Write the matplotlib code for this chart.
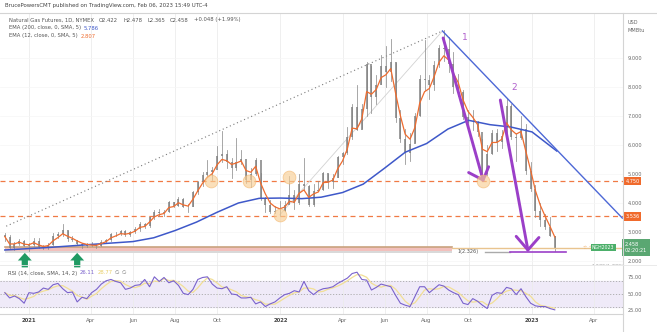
import numpy as np
import pandas as pd
import matplotlib
matplotlib.use("Agg")
import matplotlib.pyplot as plt
import matplotlib.dates as mdates
from matplotlib.transforms import blended_transform_factory
from matplotlib.patches import Rectangle

W, H = 657, 332

# ---------------- data (weekly) ----------------
first_week = "2020-11-27"
close = [2.84, 2.46, 2.59, 2.70, 2.52, 2.54, 2.70, 2.48, 2.45, 2.56,
         2.86, 2.92, 3.07, 2.77, 2.71, 2.60, 2.54, 2.53, 2.52, 2.53,
         2.67, 2.73, 2.93, 2.93, 3.02, 2.91, 2.99, 3.10, 3.29, 3.22,
         3.50, 3.70, 3.67, 3.68, 4.05, 3.91, 4.14, 3.86, 3.85, 4.37,
         4.71, 4.95, 5.08, 5.14, 5.62, 5.69, 5.41, 5.20, 5.43, 5.52,
         4.79, 5.00, 5.47, 4.13, 3.93, 3.69, 3.73, 3.73, 3.92, 4.26,
         3.99, 4.64, 4.57, 3.94, 4.43, 4.45, 5.02, 4.73, 4.86, 5.57,
         5.72, 6.28, 7.30, 6.53, 7.24, 8.78, 7.66, 8.08, 8.73, 8.52,
         8.85, 6.94, 6.22, 5.73, 6.03, 7.00, 8.28, 8.23, 8.06, 8.77,
         9.34, 9.30, 8.79, 8.00, 7.83, 6.95, 6.77, 6.75, 6.45, 5.00,
         5.69, 6.40, 6.09, 6.30, 7.33, 6.28, 6.23, 6.55, 5.10, 4.48,
         3.71, 3.42, 3.17, 2.85, 2.46]
high = [2.98, 2.88, 2.66, 2.76, 2.72, 2.62, 2.80, 2.80, 2.56, 2.62,
        2.95, 3.00, 3.27, 3.05, 2.86, 2.73, 2.62, 2.61, 2.64, 2.57,
        2.71, 2.76, 2.96, 2.99, 3.06, 3.06, 3.02, 3.16, 3.34, 3.31,
        3.53, 3.76, 3.78, 3.75, 4.08, 4.04, 4.21, 4.18, 3.96, 4.41,
        4.76, 5.06, 5.47, 5.24, 5.96, 6.47, 5.83, 5.56, 6.23, 5.81,
        5.09, 5.21, 5.56, 5.02, 4.21, 4.11, 3.91, 4.07, 4.06, 4.92,
        4.46, 5.00, 5.55, 4.61, 4.66, 4.76, 5.06, 5.01, 5.01, 5.61,
        5.76, 6.62, 7.41, 8.06, 7.41, 8.86, 8.71, 8.41, 9.10, 9.41,
        9.66, 8.81, 7.21, 6.56, 6.41, 7.11, 8.41, 9.62, 8.41, 8.91,
        9.46, 9.96, 9.71, 9.21, 8.46, 7.91, 7.21, 7.21, 6.81, 6.21,
        6.01, 6.51, 6.56, 6.51, 7.61, 7.41, 6.41, 7.01, 6.71, 5.41,
        4.61, 4.01, 3.61, 3.51, 2.86]
low = [2.70, 2.42, 2.39, 2.55, 2.50, 2.36, 2.50, 2.45, 2.42, 2.40,
       2.55, 2.80, 2.85, 2.70, 2.68, 2.55, 2.45, 2.48, 2.50, 2.45,
       2.50, 2.62, 2.70, 2.85, 2.88, 2.85, 2.85, 2.95, 3.05, 3.15,
       3.18, 3.45, 3.55, 3.56, 3.70, 3.85, 3.90, 3.85, 3.70, 3.90,
       4.30, 4.60, 4.90, 4.80, 5.30, 5.43, 5.20, 4.87, 5.15, 5.35,
       4.70, 4.55, 4.95, 4.10, 3.70, 3.65, 3.65, 3.55, 3.72, 4.00,
       3.80, 3.95, 4.45, 3.90, 3.90, 4.40, 4.45, 4.50, 4.50, 4.90,
       5.35, 5.70, 6.20, 6.50, 6.60, 7.00, 7.10, 7.40, 8.10, 8.00,
       8.20, 6.80, 6.10, 5.35, 5.45, 6.10, 7.00, 7.90, 7.60, 7.90,
       8.70, 8.90, 8.50, 7.80, 7.70, 6.90, 6.70, 6.50, 6.30, 4.90,
       4.95, 5.70, 5.80, 5.90, 6.70, 6.20, 5.45, 6.20, 5.00, 4.40,
       3.53, 3.20, 3.10, 2.85, 2.36]
rsi = [52, 44, 47, 43, 36, 52, 51, 53, 59, 57,
       64, 66, 58, 52, 53, 38, 45, 43, 52, 57,
       65, 70, 72, 69, 67, 57, 59, 63, 64, 72,
       61, 76, 69, 75, 67, 70, 63, 51, 49, 57,
       72, 75, 76, 65, 59, 58, 61, 50, 49, 44,
       44, 45, 35, 38, 31, 35, 38, 44, 49, 51,
       55, 53, 69, 55, 49, 55, 58, 59, 61, 66,
       70, 74, 81, 83, 72, 71, 56, 60, 65, 63,
       61, 48, 36, 33, 31, 46, 61, 61, 52, 58,
       64, 62, 56, 52, 49, 36, 34, 43, 39, 33,
       28, 48, 52, 51, 60, 58, 49, 58, 46, 36,
       32, 31, 31, 28, 26]

ema200_dates = ["2020-11-27", "2021-02-01", "2021-04-01", "2021-06-01", "2021-07-01",
                "2021-08-01", "2021-09-01", "2021-10-01", "2021-11-01", "2021-12-01",
                "2022-01-01", "2022-02-01", "2022-03-01", "2022-04-01", "2022-05-01",
                "2022-06-01", "2022-07-01", "2022-08-01", "2022-09-01", "2022-10-01",
                "2022-11-01", "2022-12-01", "2023-01-01", "2023-02-06"]
ema200_vals = [2.38, 2.47, 2.57, 2.67, 2.80, 3.05, 3.34, 3.68, 4.00, 4.16,
               4.17, 4.15, 4.20, 4.36, 4.65, 5.20, 5.75, 6.05, 6.55, 6.85,
               6.70, 6.62, 6.45, 5.79]

level_lines = [4.750, 3.536]
tick_dates = ["2021-01-01", "2021-04-01", "2021-06-01", "2021-08-01", "2021-10-01",
              "2022-01-01", "2022-04-01", "2022-06-01", "2022-08-01", "2022-10-01",
              "2023-01-01", "2023-04-01"]
tick_labels = ["2021", "Apr", "Jun", "Aug", "Oct", "2022", "Apr", "Jun", "Aug", "Oct", "2023", "Apr"]
price_ticks = [2, 3, 4, 5, 6, 7, 8, 9]
rsi_ticks = [25, 50, 75]

# annotations (date, price)
dotted_line = (["2020-11-29", "2022-08-24"], [3.20, 9.93])
faint_line = (["2021-12-31", "2022-08-24"], [3.59, 9.93])
trend_line = (["2022-08-24", "2023-05-12"], [9.93, 3.48])
arrow1 = (["2022-08-25", "2022-10-22"], [9.69, 4.79])
arrow1_head = (["2022-10-01", "2022-10-22", "2022-10-30"], [5.05, 4.79, 5.25])
arrow2 = (["2022-11-16", "2022-12-26"], [7.55, 2.38])
arrow2_head = (["2022-12-09", "2022-12-26", "2023-01-11"], [2.85, 2.38, 2.81])
circles = (["2021-09-22", "2021-11-16", "2022-01-13", "2021-12-31", "2022-10-22"],
           [4.76, 4.76, 4.90, 3.59, 4.76])
green_arrows = ["2020-12-26", "2021-03-12"]

# ---------------- helpers ----------------
def d(s):
    return mdates.date2num(pd.Timestamp(s))

weeks = pd.date_range(first_week, periods=len(close), freq="7D")
wx = mdates.date2num(weeks)
opens = [close[0] + 0.06] + close[:-1]
ema12 = pd.Series(close).ewm(span=3).mean().values
rsi_sma = pd.Series(rsi).rolling(3, min_periods=1).mean().values

fig = plt.figure(figsize=(W / 100, H / 100), dpi=100)
fig.patch.set_facecolor("white")

def rect(x0, y0, x1, y1):
    return [x0 / W, 1 - y1 / H, (x1 - x0) / W, (y1 - y0) / H]

ax2 = fig.add_axes(rect(0, 265, 623, 314))
ax = fig.add_axes(rect(0, 13, 623, 265))
ax.patch.set_visible(False)
ax2.patch.set_visible(False)
xlim = (d("2020-11-20"), d("2023-05-13"))
for a in (ax, ax2):
    a.set_xlim(*xlim)
    for s in a.spines.values():
        s.set_visible(False)
    a.set_xticks([d(t) for t in tick_dates])
    a.grid(axis="x", color="#ececec", lw=0.6)
    a.set_axisbelow(True)
ax.set_ylim(1.862, 10.55)
ax2.set_ylim(19.7, 93.9)

# price panel
ax.set_yticks(price_ticks)
ax.set_yticklabels([f"{v:.3f}" for v in price_ticks])
ax.yaxis.tick_right()
ax.tick_params(axis="y", length=0, pad=3.5, labelsize=3.6, labelcolor="#666")
ax.tick_params(axis="x", length=0, labelbottom=False)
ax.grid(axis="y", color="#f5f5f5", lw=0.5)

# support band
x0b, x1b = d("2020-11-27"), d("2022-09-07")
ax.add_patch(Rectangle((x0b, 2.27), x1b - x0b, 0.09, facecolor="#d9d9d9", edgecolor="none", zorder=1))
ax.add_patch(Rectangle((x0b, 2.36), x1b - x0b, 0.13, facecolor="#f2c0bc", edgecolor="none", zorder=1))
ax.plot([x0b, x1b], [2.49, 2.49], color="#c9a27e", lw=1.2, zorder=1)

# level lines
for lv in level_lines:
    ax.axhline(lv, color="#f07a45", lw=0.9, ls=(0, (4, 3)), zorder=2)

# lines
ax.plot([d(s) for s in dotted_line[0]], dotted_line[1], color="#7a7a7a", lw=0.8, ls=(0, (1, 2.5)), zorder=2)
ax.plot([d(s) for s in faint_line[0]], faint_line[1], color="#d2d2d2", lw=0.6, zorder=2)

# candles
for x, o, h, l, c in zip(wx, opens, high, low, close):
    ax.plot([x, x], [l, h], color="#8f8f8f", lw=0.55, zorder=3)
    ax.plot([x, x], [min(o, c), max(o, c)], color="#808080", lw=1.1, zorder=3, solid_capstyle="butt")

ax.plot([d(s) for s in ema200_dates], ema200_vals, color="#3e58c9", lw=1.1, zorder=4)
ax.plot(wx, ema12, color="#ef6c2f", lw=0.9, zorder=4)

ax.plot([d(s) for s in trend_line[0]], trend_line[1], color="#4d68d6", lw=1.0, zorder=4)

purple = "#9b3fc8"
for shaft, head in ((arrow1, arrow1_head), (arrow2, arrow2_head)):
    ax.plot([d(s) for s in shaft[0]], shaft[1], color=purple, lw=2.1, zorder=5, solid_capstyle="round")
    ax.plot([d(s) for s in head[0]], head[1], color=purple, lw=2.1, zorder=5, solid_capstyle="round",
            solid_joinstyle="round")
ax.text(d("2022-09-26"), 9.72, "1", color="#b060cc", fontsize=6.5, ha="center", va="center", zorder=6)
ax.text(d("2022-12-06"), 7.97, "2", color="#b060cc", fontsize=6.5, ha="center", va="center", zorder=6)

ax.scatter([d(s) for s in circles[0]], circles[1], s=85, facecolor="#f8cf95", edgecolor="#f3b770",
           alpha=0.65, lw=0.6, zorder=6)

for g in green_arrows:
    an = ax.annotate("", xy=(d(g), 2.28), xytext=(d(g), 1.78),
                     arrowprops=dict(arrowstyle="simple,head_width=1.0,head_length=0.55,tail_width=0.45",
                                     color="#1f9a63", lw=0, shrinkA=0, shrinkB=0),
                     annotation_clip=False, zorder=7)
    an.arrow_patch.set_clip_on(False)

# fib / price lines
ax.plot([d("2022-10-25"), d("2022-11-30")], [2.326, 2.326], color="#aaaaaa", lw=1.0, zorder=4)
ax.plot([d("2022-11-30"), d("2023-02-20")], [2.30, 2.30], color=purple, lw=1.2, zorder=5)
ax.plot([d("2022-09-07"), xlim[1]], [2.458, 2.458], color="#e9c48f", lw=1.0, zorder=4)
ax.text(d("2022-09-15"), 2.326, "1(2.326)", color="#555", fontsize=3.6, ha="left", va="center", zorder=6)
ax.text(d("2023-03-16"), 2.47, "\u2606 \u2606", color="#f0a860", fontsize=3.4, ha="left", va="center", zorder=6)
ax.text(d("2023-03-29"), 2.47, "NGH2023", color="white", fontsize=3.3, ha="left", va="center", zorder=7,
        bbox=dict(boxstyle="square,pad=0.25", fc="#4caf6a", ec="none"))
ax.text(d("2023-03-28"), 1.82, "1.272(1.770)", color="#aaa", fontsize=3.6, ha="left", va="center", zorder=6,
        clip_on=True)

# right axis boxes
tr = blended_transform_factory(ax.transAxes, ax.transData)
for lv in level_lines:
    ax.text(1.004, lv, f"{lv:.3f}", transform=tr, color="white", fontsize=3.6, ha="left", va="center",
            clip_on=False, zorder=8, bbox=dict(boxstyle="square,pad=0.35", fc="#f06a2c", ec="none"))
ax.text(1.003, 2.47, "2.458\n02:20:21", transform=tr, color="white", fontsize=3.6, ha="left", va="center",
        clip_on=False, zorder=8, linespacing=1.3,
        bbox=dict(boxstyle="square,pad=0.6", fc="#5aa772", ec="none"))

# RSI panel
ax2.axhspan(30, 70, color="#efeaf8", zorder=0)
for lv in (70, 50, 30):
    ax2.axhline(lv, color="#a8a8a8", lw=0.6, ls=(0, (1.5, 2)), zorder=1)
ax2.plot(wx, rsi_sma, color="#f2df96", lw=0.9, zorder=2)
ax2.plot(wx, rsi, color="#7a62cc", lw=0.8, zorder=3)
ax2.set_yticks(rsi_ticks)
ax2.set_yticklabels([f"{v:.2f}" for v in rsi_ticks])
ax2.yaxis.tick_right()
ax2.tick_params(axis="y", length=0, pad=3.5, labelsize=3.6, labelcolor="#666")
ax2.set_xticklabels(tick_labels)
ax2.tick_params(axis="x", length=0, pad=3.0, labelsize=3.8, labelcolor="#666")
for lab in ax2.get_xticklabels():
    if lab.get_text().startswith("20"):
        lab.set_color("#444")
        lab.set_fontweight("bold")

# frame lines
fl = dict(color="#d4d4d4", lw=0.8, transform=fig.transFigure)
fig.add_artist(plt.Line2D([0, 1], [1 - 13 / H, 1 - 13 / H], **fl))
fig.add_artist(plt.Line2D([623 / W, 623 / W], [0, 1 - 13 / H], **fl))
fig.add_artist(plt.Line2D([0, 1], [1 - 265 / H, 1 - 265 / H], color="#e6e6e6", lw=0.6, transform=fig.transFigure))
fig.add_artist(plt.Line2D([0, 623 / W], [1 - 314 / H, 1 - 314 / H], **fl))

# texts
renderer = fig.canvas.get_renderer()

def chain(x, y, parts, size, gap=2.5):
    for s, c in parts:
        t = fig.text(x / W, 1 - y / H, s, color=c, fontsize=size, ha="left", va="center")
        x += t.get_window_extent(renderer).width + gap

fig.text(5 / W, 1 - 6 / H, "BrucePowersCMT published on TradingView.com, Feb 06, 2023 15:49 UTC-4",
         fontsize=3.9, color="#444", ha="left", va="center")
chain(9, 20, [("Natural Gas Futures, 1D, NYMEX", "#555"), ("O2.422", "#555"), ("H2.478", "#555"),
              ("L2.365", "#555"), ("C2.458", "#555"), ("+0.048 (+1.99%)", "#555")], 3.8, gap=5)
chain(9, 28, [("EMA (200, close, 0, SMA, 5)", "#555"), ("5.786", "#3e58c9")], 3.8)
chain(9, 36, [("EMA (12, close, 0, SMA, 5)", "#555"), ("2.807", "#ef6c2f")], 3.8)
chain(8, 273, [("RSI (14, close, SMA, 14, 2)", "#555"), ("26.11", "#7a62cc"), ("28.77", "#e8cf6a"),
               ("\u2205", "#777"), ("\u2205", "#777")], 3.8)
fig.text(628 / W, 1 - 23 / H, "USD", fontsize=3.6, color="#666", ha="left", va="center")
fig.text(628 / W, 1 - 31 / H, "MMBtu", fontsize=3.6, color="#666", ha="left", va="center")

fig.savefig("out.png", dpi=100, facecolor="white")
